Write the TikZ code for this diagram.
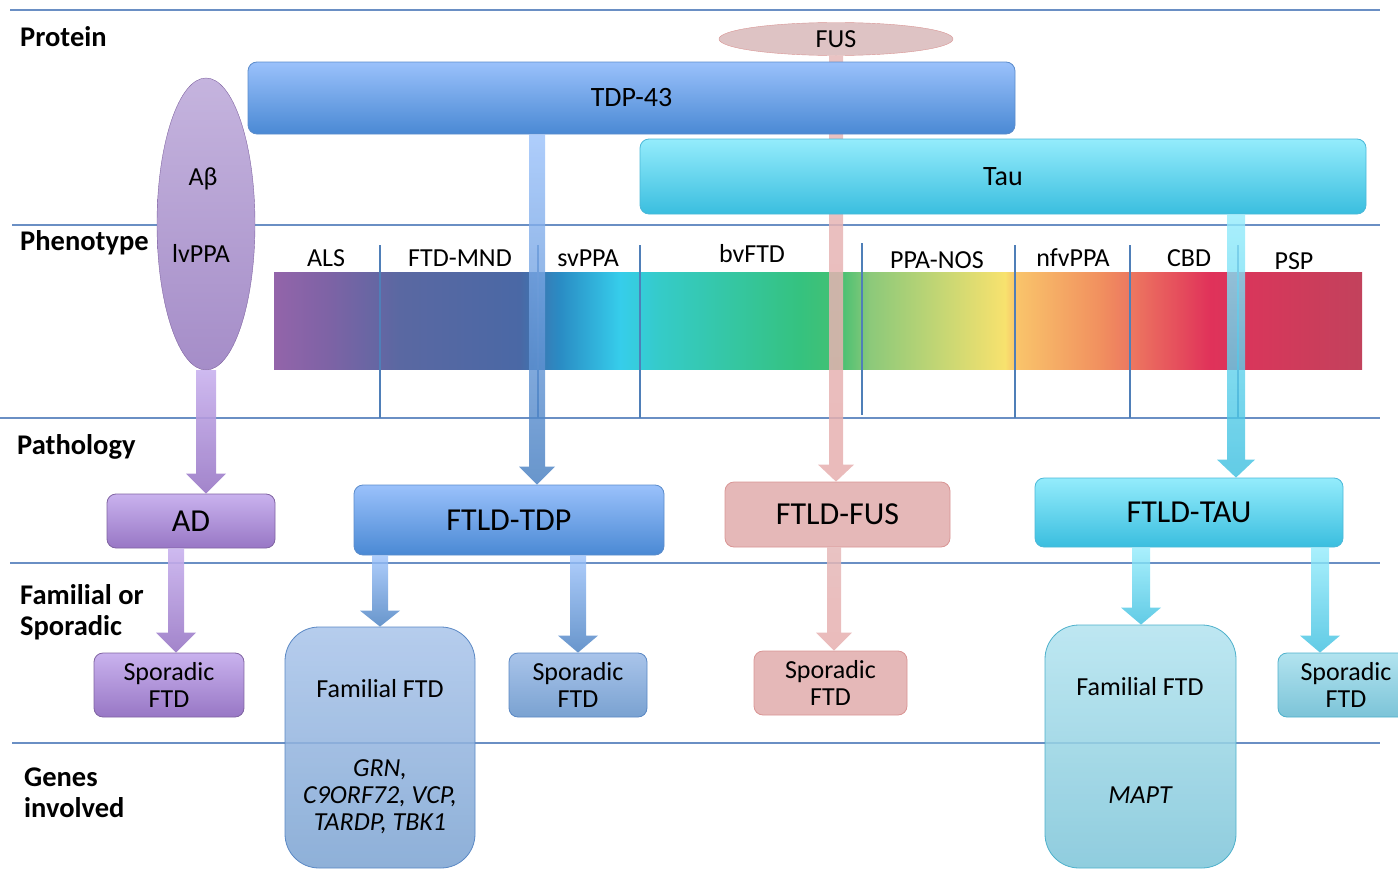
\documentclass[tikz,border=0pt]{standalone}
\usepackage{fontspec}
\setmainfont{Carlito}
\usetikzlibrary{shapes.geometric,calc}

\definecolor{rowblue}{HTML}{6A8FC4}
\definecolor{divblue}{HTML}{4F7FB8}
\definecolor{tdptop}{HTML}{9AC1FB}
\definecolor{tdpbot}{HTML}{4A89D4}
\definecolor{tdpedge}{HTML}{5B8CCB}
\definecolor{tautop}{HTML}{94ECFC}
\definecolor{taubot}{HTML}{3ABEDF}
\definecolor{tauedge}{HTML}{4BB8D8}
\definecolor{purtop}{HTML}{C9B2EE}
\definecolor{purbot}{HTML}{9877C5}
\definecolor{puredge}{HTML}{8064A2}
\definecolor{abtop}{HTML}{C5B4DE}
\definecolor{abbot}{HTML}{A58DC8}
\definecolor{fusfill}{HTML}{E5B8B8}
\definecolor{fusedge}{HTML}{D99594}
\definecolor{fusoval}{HTML}{DEC3C4}
\definecolor{famtdptop}{HTML}{A9C4EA}
\definecolor{famtdpbot}{HTML}{7AA2D1}
\definecolor{famtdpedge}{HTML}{5A88C4}
\definecolor{famtautop}{HTML}{B2E3EF}
\definecolor{famtaubot}{HTML}{7CC4D8}
\definecolor{famtauedge}{HTML}{4DB0CB}

% phenotype spectrum
\definecolor{spa}{HTML}{9364AA}
\definecolor{spb}{HTML}{7D63A5}
\definecolor{spc}{HTML}{5A68A2}
\definecolor{spd}{HTML}{4A68A5}
\definecolor{spe}{HTML}{2A8CC4}
\definecolor{spf}{HTML}{36CDEB}
\definecolor{spg}{HTML}{35CBC8}
\definecolor{sph}{HTML}{35C27F}
\definecolor{spi}{HTML}{45C072}
\definecolor{spj}{HTML}{8CC97A}
\definecolor{spk}{HTML}{F8E26E}
\definecolor{spl}{HTML}{F9C56B}
\definecolor{spm}{HTML}{F1905F}
\definecolor{spn}{HTML}{ED7860}
\definecolor{spo}{HTML}{E0325A}
\definecolor{spp}{HTML}{C2425C}
\pgfdeclarehorizontalshading{spectrum}{100bp}{color(0bp)=(spa); color(25bp)=(spa);
  color(27.57bp)=(spb); color(30.79bp)=(spc); color(36.31bp)=(spd); color(38.14bp)=(spe);
  color(40.90bp)=(spf); color(42.74bp)=(spg); color(49.17bp)=(sph); color(51.01bp)=(spi);
  color(52.39bp)=(spj); color(58.59bp)=(spk); color(59.05bp)=(spl); color(62.96bp)=(spm);
  color(64.34bp)=(spn); color(68.01bp)=(spo); color(75bp)=(spp); color(100bp)=(spp)}

% block arrow: shading, from, to, x, stem half width, head half width, head length
\newcommand\blockarrow[7]{%
  \shade[#1] let \p1=(#2 -| #4,0), \p2=(#3 -| #4,0) in
    (\x1-#5pt,\y1) -- (\x1+#5pt,\y1) -- (\x1+#5pt,\y2+#7pt) -- (\x1+#6pt,\y2+#7pt)
    -- (\x2,\y2) -- (\x1-#6pt,\y2+#7pt) -- (\x1-#5pt,\y2+#7pt) -- cycle;}

\begin{document}
\begin{tikzpicture}[x=1pt,y=-1pt,
  rowline/.style={draw=rowblue, line width=1.6pt},
  divider/.style={draw=divblue, line width=2.8pt},
  section/.style={font=\bfseries\fontsize{28.5}{31}\selectfont, align=left, anchor=west, inner sep=0pt},
  pheno/.style={font=\fontsize{26}{28}\selectfont, inner sep=0pt},
  txt/.style={font=\fontsize{26}{27}\selectfont, align=center, inner sep=0pt},
  box/.style={rounded corners=9pt, inner sep=0pt, line width=0.8pt, align=center,
    font=\fontsize{26}{27}\selectfont},
  big/.style={font=\fontsize{32}{34}\selectfont},
  purplebox/.style={box, top color=purtop, bottom color=purbot, draw=puredge},
  bluebox/.style={box, top color=tdptop, bottom color=tdpbot, draw=tdpedge},
  cyanbox/.style={box, top color=tautop, bottom color=taubot, draw=tauedge},
  pinkbox/.style={box, fill=fusfill, draw=fusedge},
  famblue/.style={box, rounded corners=34pt, top color=famtdptop, bottom color=famtdpbot,
    draw=famtdpedge, fill opacity=.85},
  famcyan/.style={box, rounded corners=34pt, top color=famtautop, bottom color=famtaubot,
    draw=famtauedge, fill opacity=.85},
  purplearrow/.style={top color=purtop, bottom color=purbot, opacity=.9},
  bluearrow/.style={top color=tdptop, bottom color=tdpbot!90!black, opacity=.8},
  cyanarrow/.style={top color=tautop, bottom color=taubot, opacity=.8},
  pinkarrow/.style={top color=fusfill, bottom color=fusfill!95!red, opacity=.85}]
  \useasboundingbox (0,0) rectangle (1398,870);

  % rows
  \foreach \y/\a in {10/10, 225/12, 418/0, 563/10, 743/12}
    \draw[rowline] (\a,\y) -- (1380,\y);
  \node[section] (lprot) at (20,37) {Protein};
  \node[section] (lphen) at (20,243) {Phenotype};
  \node[section] (lpath) at (17,447) {Pathology};
  \node[section] (lfam) at (20,612.5) {Familial or\\Sporadic};
  \node[section] (lgene) at (24,792.5) {Genes\\involved};

  % spectrum
  \shade[shading=spectrum] (274,272) rectangle (1362,369);

  % FUS runs behind the protein boxes
  \node[ellipse, fill=fusoval, draw=fusedge, minimum width=234pt, minimum height=33pt,
    inner sep=0pt, font=\fontsize{26}{28}\selectfont] (fus) at (836,39) {FUS};
  \node[pinkbox, big, minimum width=225pt, minimum height=65pt] (ftldfus) at (837.5,514.5) {FTLD-FUS};
  \blockarrow{pinkarrow}{fus.south}{ftldfus.north}{836}{7}{18}{17}

  % proteins
  \node[bluebox, font=\fontsize{28}{30}\selectfont, minimum width=767pt, minimum height=72pt]
    (tdp) at (631.5,98) {TDP-43};
  \node[cyanbox, font=\fontsize{28}{30}\selectfont, minimum width=726pt, minimum height=75pt]
    (tau) at (1003,176.5) {Tau};
  \node[ellipse, top color=abtop, bottom color=abbot, draw=puredge, minimum width=98pt,
    minimum height=292pt, inner sep=0pt] (abeta) at (206,224) {};
  \node[pheno] (abtxt) at (203,179) {Aβ};
  \node[pheno] (lvppa) at (201,253) {lvPPA};

  % phenotypes
  \foreach \x/\a/\b in {380/245/418, 538/245/418, 640/245/418, 862/243/415,
                        1015/245/418, 1130/245/418, 1238/245/418}
    \draw[divider] (\x,\a) -- (\x,\b);
  \foreach \x/\y/\t [count=\i] in {326/258/ALS, 460/258/FTD-MND, 588/258/svPPA,
      752/254/bvFTD, 937/260/PPA-NOS, 1073/258/nfvPPA, 1189/258/CBD, 1294/261/PSP}
    \node[pheno] (ph\i) at (\x,\y) {\t};

  % pathology
  \node[purplebox, big, minimum width=168pt, minimum height=54pt] (ad) at (191,521) {AD};
  \node[bluebox, big, minimum width=310pt, minimum height=70pt] (ftldtdp) at (509,520) {FTLD-TDP};
  \node[cyanbox, big, minimum width=308pt, minimum height=69pt] (ftldtau) at (1189,512.5) {FTLD-TAU};

  % familial or sporadic
  \node[purplebox, minimum width=150pt, minimum height=64pt] (spoad) at (169,685) {Sporadic\\FTD};
  \node[famblue, minimum width=190pt, minimum height=241pt] (famtdp) at (380,747.5) {};
  \node[txt] (famtdptxt) at (380,689) {Familial FTD};
  \node[txt, font=\itshape\fontsize{26}{27}\selectfont] (genestdp) at (380,797)
    {GRN,\\C9ORF72, VCP,\\TARDP, TBK1};
  \node[box, top color=famtdptop, bottom color=famtdpbot, draw=famtdpedge,
    minimum width=138pt, minimum height=64pt] (spotdp) at (578,685) {Sporadic\\FTD};
  \node[pinkbox, minimum width=153pt, minimum height=64pt] (spofus) at (830.5,683) {Sporadic\\FTD};
  \node[famcyan, minimum width=191pt, minimum height=243pt] (famtau) at (1140.5,746.5) {};
  \node[txt] (famtautxt) at (1140,687) {Familial FTD};
  \node[txt, font=\itshape\fontsize{26}{27}\selectfont] (genestau) at (1140,795) {MAPT};
  \node[box, top color=famtautop, bottom color=famtaubot, draw=famtauedge,
    minimum width=136pt, minimum height=64pt] (spotau) at (1346,685) {Sporadic\\FTD};

  % arrows
  \blockarrow{bluearrow}{tdp.south}{ftldtdp.north}{537}{8}{18}{18}
  \blockarrow{cyanarrow}{tau.south}{ftldtau.north}{1236}{9}{19}{18}
  \blockarrow{purplearrow}{abeta.south}{ad.north}{206}{10}{20}{20}
  \blockarrow{purplearrow}{ad.south}{spoad.north}{176}{8}{20}{20}
  \blockarrow{bluearrow}{ftldtdp.south}{famtdp.north}{380}{8}{20}{16}
  \blockarrow{bluearrow}{ftldtdp.south}{spotdp.north}{578}{8}{20}{17}
  \blockarrow{pinkarrow}{ftldfus.south}{spofus.north}{834}{7}{18}{18}
  \blockarrow{cyanarrow}{ftldtau.south}{famtau.north}{1141}{9}{20}{17}
  \blockarrow{cyanarrow}{ftldtau.south}{spotau.north}{1320}{9}{20}{17}
\end{tikzpicture}
\end{document}
